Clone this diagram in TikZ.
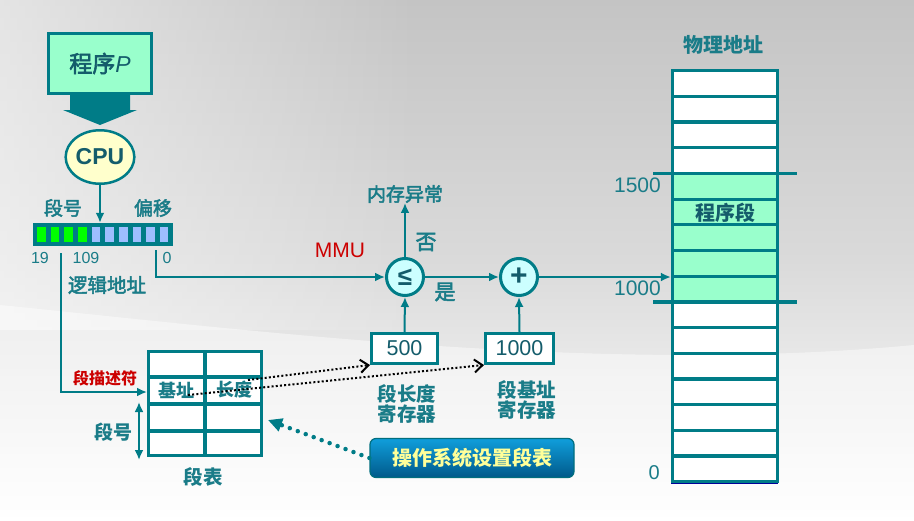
\documentclass[tikz,border=0pt]{standalone}
\usepackage{fontspec}
\newfontfamily\cjk{Noto Sans CJK SC}
\newfontfamily\cjkm[FakeBold=2.5]{Noto Sans CJK SC}
\newfontfamily\lat{Liberation Sans}
\usetikzlibrary{arrows.meta,shapes.geometric,fadings}
\newcommand{\myfs}[1]{\fontsize{#1}{#1}\selectfont}
\definecolor{teal1}{HTML}{007C87}
\definecolor{tealtxt}{HTML}{1A7C88}
\definecolor{darktxt}{HTML}{145C6B}
\definecolor{mint}{HTML}{99FFCC}
\definecolor{cream}{HTML}{FFFFCC}
\definecolor{lcyan}{HTML}{CCFFFF}
\definecolor{regblue}{HTML}{9DBEFF}
\definecolor{regreen}{HTML}{00FF00}
\definecolor{mmured}{HTML}{CC0000}
\definecolor{btntop}{HTML}{109EDB}
\definecolor{btnbot}{HTML}{00598A}
\definecolor{btnborder}{HTML}{006E7E}
\definecolor{btntxt}{HTML}{FFFF99}
\definecolor{bgtop}{HTML}{C4C4C4}
\definecolor{bgmid}{HTML}{DADADA}
\tikzset{
  lbl/.style={text=tealtxt, inner sep=0pt},
  arr/.style={draw=teal1, line width=2pt, -{Latex[length=10pt,width=9pt]}},
  tbox/.style={draw=teal1, line width=3.3pt, fill=white, inner sep=0pt},
  dotarr/.style={draw=black, line width=2pt, dash pattern=on 2pt off 2.2pt, -{Straight Barb[length=8pt,width=13pt]}},
  rowline/.style={draw=teal1, line width=3.3pt},
}
\begin{document}
\begin{tikzpicture}[x=1pt,y=-1pt]
\useasboundingbox (0,0) rectangle (914,520);
% background
\fill[top color=bgtop, bottom color=white, middle color=bgmid] (0,0) rectangle (914,520);
\fill[white, opacity=0.55, path fading=east] (0,0) rectangle (420,330);
\fill[white, opacity=0.45] (0,305) .. controls (250,330) and (600,375) .. (914,345) -- (914,520) -- (0,520) -- cycle;

% program box and big arrow
\node[draw=teal1, line width=3pt, fill=mint, minimum width=103pt, minimum height=60pt, inner sep=0pt, text=darktxt, font=\cjkm\myfs{23}] (prog) at (100,63.5) {程序{\lat\itshape P}};
\fill[teal1] (70,95) -- (130,95) -- (130,110) -- (137,110) -- (100,125) -- (63,110) -- (70,110) -- cycle;

% CPU
\node[ellipse, draw=teal1, line width=2.5pt, fill=cream, minimum width=65.5pt, minimum height=53.5pt, inner sep=0pt, text=darktxt, font=\lat\bfseries\myfs{23}] (cpu) at (100,157) {CPU};

% register
\node[fill=teal1, minimum width=140pt, minimum height=23pt, inner sep=0pt] (reg) at (103,234.5) {};
\foreach \i in {0,...,3} \fill[regreen] ({41.5+13.62*\i-4.3},227) rectangle ++(8.6,15);
\foreach \i in {4,...,9} \fill[regblue] ({41.5+13.62*\i-4.3},227) rectangle ++(8.6,15);
\draw[arr] (cpu.south) -- (cpu.south |- reg.north);

\node[lbl, font=\cjkm\myfs{19}] (dh) at (63,208) {段号};
\node[lbl, font=\cjkm\myfs{19}] (py) at (153,208) {偏移};
\node[lbl, font=\lat\myfs{16}] (n19) at (40,258) {19};
\node[lbl, font=\lat\myfs{16}] (n109) at (86,258) {109};
\node[lbl, font=\lat\myfs{16}] (n0) at (167,258) {0};
\node[lbl, font=\cjkm\myfs{19.5}] (lj) at (107,285) {逻辑地址};

% MMU compare and add
\node[circle, draw=teal1, line width=3pt, fill=lcyan, minimum size=37pt, inner sep=0pt, text=darktxt, font=\lat\bfseries\myfs{26}] (cmp) at (405,277) {≤};
\node[circle, draw=teal1, line width=3pt, fill=lcyan, minimum size=37pt, inner sep=0pt, text=darktxt, font=\lat\bfseries\myfs{30}] (add) at (519,277) {+};
\node[lbl, font=\cjkm\myfs{19}] (exc) at (405,194) {内存异常};
\node[lbl, font=\cjkm\myfs{21}] (no) at (426,242) {否};
\node[lbl, font=\cjkm\myfs{21}] (yes) at (445,292) {是};
\node[text=mmured, inner sep=0pt, font=\lat\myfs{21}] (mmu) at (340,250) {MMU};

\coordinate (offsrc) at (156,250);
\draw[arr] (offsrc) |- (cmp.west);
\draw[arr] (cmp.east) -- (add.west);
\draw[arr] (cmp.north) -- (exc.south);

% registers
\node[tbox, minimum width=65.7pt, minimum height=29.7pt, text=darktxt, font=\lat\myfs{21.5}] (r500) at (404.5,348.5) {500};
\node[tbox, minimum width=67.7pt, minimum height=29.7pt, text=darktxt, font=\lat\myfs{21.5}] (r1000) at (519.5,348.5) {1000};
\draw[arr] (r500.north) -- (cmp.south);
\draw[arr] (r1000.north) -- (add.south);
\node[lbl, font=\cjk\bfseries\fontsize{19.5}{17.5}\selectfont, align=center] (lenreg) at (407,404) {段长度\\寄存器};
\node[lbl, font=\cjk\bfseries\fontsize{19.5}{17.5}\selectfont, align=center] (basereg) at (527,400) {段基址\\寄存器};

% memory
\fill[white] (672.5,70.7) rectangle (777.5,481.7);
\fill[mint] (672.5,173.46) rectangle (777.5,301.9);
\foreach \k in {1,...,15} \draw[rowline] (672.5,{70.7+25.69*\k}) -- (777.5,{70.7+25.69*\k});
\draw[rowline] (653,173.46) -- (797,173.46);
\draw[rowline] (653,301.9) -- (797,301.9);
\node[draw=teal1, line width=3.3pt, minimum width=105pt, minimum height=411pt, inner sep=0pt] (mem) at (725,276.2) {};
\draw[blue!60!black, line width=1pt] (671,483.5) -- (778,483.5);
\node[lbl, font=\cjk\bfseries\myfs{20}] (phys) at (723,45) {物理地址};
\node[text=darktxt, inner sep=0pt, font=\cjk\bfseries\myfs{20}] (progseg) at (725,213) {程序段};
\node[lbl, anchor=east, font=\lat\myfs{21}] (m1500) at (661,185) {1500};
\node[lbl, anchor=east, font=\lat\myfs{21}] (m1000) at (661,288) {1000};
\node[lbl, anchor=east, font=\lat\myfs{20}] (m0) at (660,473) {0};
\draw[arr] (add.east) -- (mem.west |- add.east);

% segment table
\node[tbox, minimum width=112.7pt, minimum height=103.7pt] (tab) at (205,403.5) {};
\draw[rowline] (148.6,377) -- (261.4,377);
\draw[rowline] (148.6,404) -- (261.4,404);
\draw[rowline] (148.6,431) -- (261.4,431);
\draw[rowline] (tab.north) -- (tab.south);
\node[lbl, font=\cjk\bfseries\myfs{18}] (base) at (176,390) {基址};
\node[lbl, font=\cjk\bfseries\myfs{18}] (len) at (234,390) {长度};
\node[text=mmured, inner sep=0pt, font=\cjk\bfseries\myfs{16}] (desc) at (105,378) {段描述符};
\node[lbl, font=\cjk\bfseries\myfs{19}] (tsn) at (113,432) {段号};
\node[lbl, font=\cjk\bfseries\myfs{19.5}] (tname) at (203,477) {段表};

\coordinate (segsrc) at (61,253);
\coordinate (r2) at (0,392);
\draw[arr] (segsrc) |- (tab.west |- r2);
\coordinate (sn1) at (139,402);
\coordinate (sn2) at (139,460);
\draw[draw=teal1, line width=2pt, {Latex[length=10pt,width=9pt]}-{Latex[length=10pt,width=9pt]}] (sn1) -- (sn2);

% dotted transfers
\coordinate (lenstart) at (248,380);
\coordinate (basestart) at (188,395);
\draw[dotarr] (lenstart) -- (r500.south west);
\draw[dotarr] (basestart) -- (r1000.south west);

% OS button
\node[rounded corners=6pt, draw=btnborder, line width=1.2pt, top color=btntop, bottom color=btnbot, minimum width=204pt, minimum height=39pt, inner sep=0pt, text=btntxt, font=\cjk\bfseries\myfs{20}] (btn) at (472,458) {操作系统设置段表};
\coordinate (tabtip) at (268,420);
\draw[teal1, line width=4.5pt, line cap=round, dash pattern=on 0pt off 8.5pt, -{Triangle[length=14pt,width=13pt]}] (btn.west) -- (tabtip);
\end{tikzpicture}
\end{document}
